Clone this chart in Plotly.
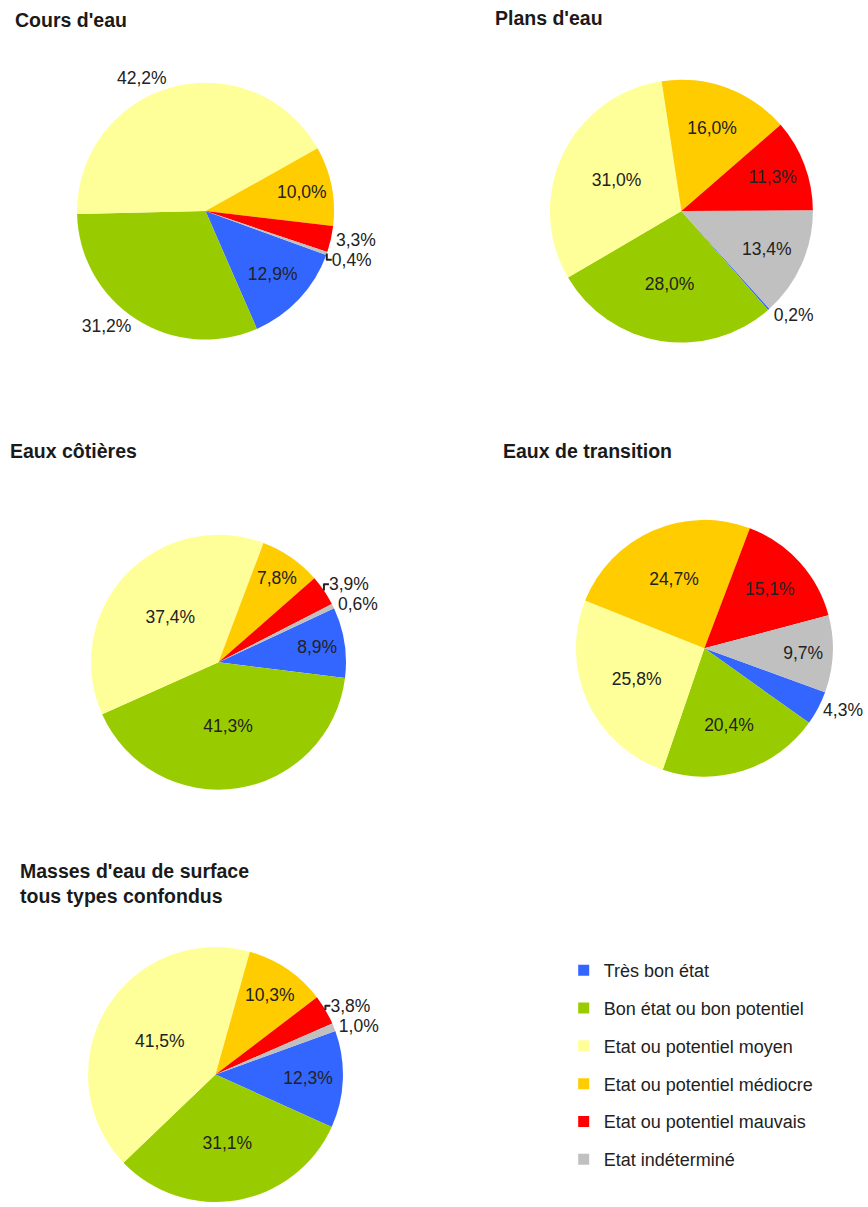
import plotly.graph_objects as go

# ---------------- data ----------------
categories = [
    "Très bon état",
    "Bon état ou bon potentiel",
    "Etat ou potentiel moyen",
    "Etat ou potentiel médiocre",
    "Etat ou potentiel mauvais",
    "Etat indéterminé",
]
colors = ["#3366FF", "#99CC00", "#FFFF99", "#FFCC00", "#FF0000", "#C0C0C0"]

titles = [
    "Cours d'eau",
    "Plans d'eau",
    "Eaux côtières",
    "Eaux de transition",
    "Masses d'eau de surface<br>tous types confondus",
]
cours_deau = [12.9, 31.2, 42.2, 10.0, 3.3, 0.4]
plans_deau = [0.2, 28.0, 31.0, 16.0, 11.3, 13.4]
eaux_cotieres = [8.9, 41.3, 37.4, 7.8, 3.9, 0.6]
eaux_transition = [4.3, 20.4, 25.8, 24.7, 15.1, 9.7]
masses_total = [12.3, 31.1, 41.5, 10.3, 3.8, 1.0]
series = [cours_deau, plans_deau, eaux_cotieres, eaux_transition, masses_total]

# ---------------- layout / style ----------------
W, H = 868, 1207
FONT = "Liberation Sans, Arial, sans-serif"
TXT = "#222222"

# (centre x, centre y, radius) in pixels, rotation of first slice
geom = [(206, 212, 129), (683, 212, 132), (219, 665, 128), (706, 651, 129), (216, 1079, 128)]
rotations = [110, 138, 65, 110, 70]
text_pos = [
    ["inside", "outside", "outside", "inside", "outside", "outside"],
    ["outside", "inside", "inside", "inside", "inside", "inside"],
    ["inside", "inside", "inside", "inside", "outside", "outside"],
    ["outside", "inside", "inside", "inside", "inside", "inside"],
    ["inside", "inside", "inside", "inside", "outside", "outside"],
]
title_pos = [(13, 20), (494, 18), (8, 453), (502, 453), (18, 887)]

fig = go.Figure()
for vals, (cx, cy, r), rot, tp in zip(series, geom, rotations, text_pos):
    fig.add_trace(go.Pie(
        labels=categories, values=vals, sort=False, direction="clockwise",
        rotation=rot,
        marker=dict(colors=colors, line=dict(width=0)),
        texttemplate="%{value:.1f}%", textinfo="text",
        textposition=tp, insidetextorientation="horizontal",
        textfont=dict(family=FONT, size=17.5, color=TXT),
        domain=dict(x=[(cx - r) / W, (cx + r) / W],
                    y=[max(0, 1 - (cy + r) / H), 1 - (cy - r) / H]),
        showlegend=False, hoverinfo="label+percent",
    ))

# legend entries (one group each, for spacing)
for cat, col in zip(categories, colors):
    fig.add_trace(go.Scatter(
        x=[None], y=[None], mode="markers", name=cat, legendgroup=cat,
        marker=dict(symbol="square", size=11, color=col, line=dict(width=0)),
    ))

for t, (tx, ty) in zip(titles, title_pos):
    fig.add_annotation(
        text=f"<b>{t}</b>", x=tx / W, y=1 - ty / H,
        xref="paper", yref="paper",
        xanchor="left", yanchor="middle", align="left", showarrow=False,
        font=dict(family=FONT, size=19.5, color="#1a1a1a"),
    )

fig.update_layout(
    width=W, height=H, margin=dict(l=0, r=0, t=0, b=0),
    paper_bgcolor="white", plot_bgcolor="white",
    separators=", ",
    xaxis=dict(visible=False), yaxis=dict(visible=False),
    legend=dict(x=565 / W, y=1 - 956 / H, xanchor="left", yanchor="top",
                font=dict(family=FONT, size=18, color="#222222"),
                tracegroupgap=11.4, bgcolor="rgba(0,0,0,0)"),
)

fig.write_html(
    "out.html",
    config={"displayModeBar": False},
    post_script="document.body.style.margin='0';document.body.style.overflow='hidden';",
)
